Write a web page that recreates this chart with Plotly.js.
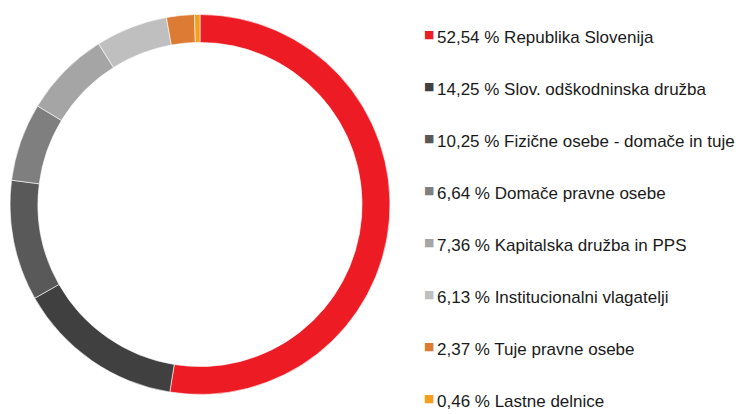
<!DOCTYPE html>
<html>
<head>
<meta charset="utf-8">
<script src="https://cdn.plot.ly/plotly-3.0.1.min.js"></script>
<style>html,body{margin:0;padding:0;background:#fff;}#chart{width:739px;height:414px;}</style>
</head>
<body>
<div id="chart"></div>
<script>
const labels = ["Republika Slovenija", "Slov. odškodninska družba", "Fizične osebe - domače in tuje", "Domače pravne osebe", "Kapitalska družba in PPS", "Institucionalni vlagatelji", "Tuje pravne osebe", "Lastne delnice"];
const values = [52.54, 14.25, 10.25, 6.64, 7.36, 6.13, 2.37, 0.46];
const valueLabels = ["52,54", "14,25", "10,25", "6,64", "7,36", "6,13", "2,37", "0,46"];
const colors = ["#ED1C24", "#404040", "#595959", "#7F7F7F", "#A5A5A5", "#BFBFBF", "#DD7A33", "#F79E1B"];

const W = 739, H = 414;
const trace = {
  type: "pie",
  labels: labels,
  values: values,
  sort: false,
  direction: "clockwise",
  rotation: 0,
  hole: 0.853,
  textinfo: "none",
  hoverinfo: "label+percent",
  marker: {colors: colors, line: {color: "#ffffff", width: 0.6}},
  domain: {x: [10 / W, 390 / W], y: [(H - 395) / H, (H - 14) / H]},
  showlegend: false
};

const annotations = [];
const rowTop = 34, rowGap = 52.14;
labels.forEach((lab, i) => {
  const yc = 1 - (rowTop + i * rowGap) / H;
  annotations.push({
    xref: "paper", yref: "paper", x: 422 / W, y: yc,
    xanchor: "left", yanchor: "middle", showarrow: false,
    text: "■", font: {family: "DejaVu Sans", size: 11, color: colors[i]}
  });
  annotations.push({
    xref: "paper", yref: "paper", x: 435 / W, y: yc - 3 / H,
    xanchor: "left", yanchor: "middle", showarrow: false,
    text: valueLabels[i] + " % " + lab,
    font: {family: "Liberation Sans", size: 17, color: "#1a1a1a"}
  });
});

const layout = {
  width: W, height: H,
  margin: {l: 0, r: 0, t: 0, b: 0},
  paper_bgcolor: "#ffffff",
  plot_bgcolor: "#ffffff",
  showlegend: false,
  annotations: annotations
};
Plotly.newPlot("chart", [trace], layout, {displayModeBar: false, staticPlot: true});
</script>
</body>
</html>
